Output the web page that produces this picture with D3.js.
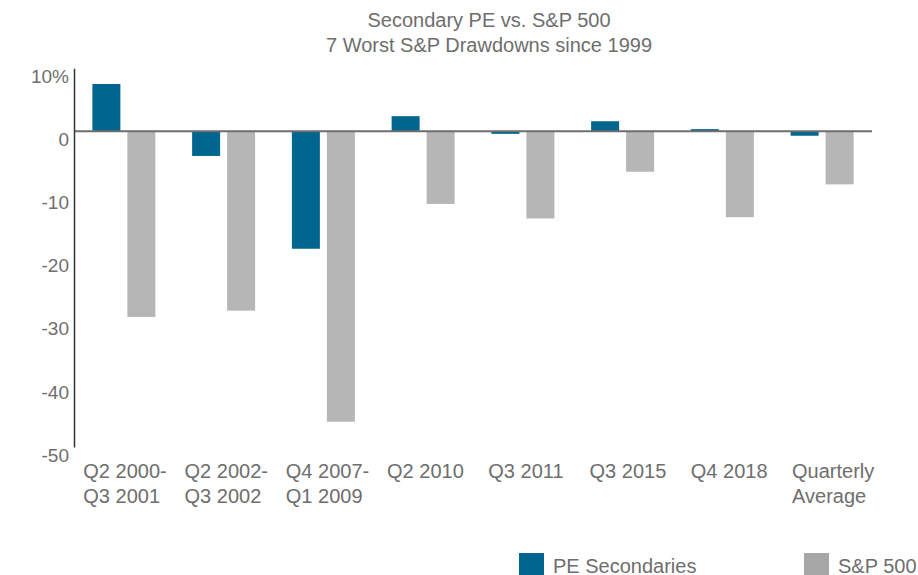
<!DOCTYPE html>
<html>
<head>
<meta charset="utf-8">
<script src="https://cdn.jsdelivr.net/npm/d3@7"></script>
<style>
  body { margin: 0; background: #fff; }
  svg { display: block; font-family: Arial, "Liberation Sans", sans-serif; }
</style>
</head>
<body>
<svg id="chart" width="918" height="575"></svg>
<script>
// categories + values
var categories = ["Q2 2000-|Q3 2001", "Q2 2002-|Q3 2002", "Q4 2007-|Q1 2009", "Q2 2010",
                  "Q3 2011", "Q3 2015", "Q4 2018", "Quarterly|Average"];
var seriesNames = ["PE Secondaries", "S&P 500"];
var peSecondaries = [7.5, -3.9, -18.6, 2.4, -0.4, 1.6, 0.35, -0.7];
var sp500 = [-29.4, -28.4, -46.0, -11.5, -13.8, -6.4, -13.6, -8.4];
var yTicks = [10, 0, -10, -20, -30, -40, -50];
var titleLines = ["Secondary PE vs. S&P 500", "7 Worst S&P Drawdowns since 1999"];

var barColors = ["#00668f", "#b7b6b7"];
var legendColors = ["#00668f", "#a6a6a6"];
var textColor = "#6e6e6e";

var svg = d3.select("#chart");

var x = d3.scaleBand().domain(d3.range(categories.length)).range([74, 872]).padding(0);
var xSub = d3.scaleBand().domain([0, 1]).range([0, x.bandwidth()])
    .paddingInner(0.2).paddingOuter(0.525);
// labels sit on a slightly wider step than the bars in the original
var xLabel = d3.scaleBand().domain(d3.range(categories.length)).range([74, 884]);
var y = d3.scaleLinear().domain([-50, 10]).range([447, 68.2]);

// title
svg.append("g").selectAll("text")
  .data(titleLines)
  .join("text")
    .attr("x", 489)
    .attr("y", function(d, i) { return 27 + i * 25; })
    .attr("text-anchor", "middle")
    .attr("font-size", 20)
    .attr("fill", textColor)
    .text(function(d) { return d; });

// bars
var rows = categories.map(function(c, i) {
  return [peSecondaries[i], sp500[i]];
});

var groups = svg.append("g").selectAll("g")
  .data(rows)
  .join("g")
    .attr("transform", function(d, i) { return "translate(" + x(i) + ",0)"; });

groups.selectAll("rect")
  .data(function(d) { return d; })
  .join("rect")
    .attr("x", function(d, j) { return xSub(j); })
    .attr("width", xSub.bandwidth())
    .attr("y", function(d) { return y(Math.max(0, d)); })
    .attr("height", function(d) { return Math.abs(y(d) - y(0)); })
    .attr("fill", function(d, j) { return barColors[j]; });

// zero line
svg.append("line")
  .attr("x1", 74).attr("x2", 872)
  .attr("y1", y(0)).attr("y2", y(0))
  .attr("stroke", "#6e6e6e")
  .attr("stroke-width", 2);

// y axis
var yAxis = d3.axisLeft(y)
  .tickValues(yTicks)
  .tickSize(0)
  .tickPadding(5)
  .tickFormat(function(d) { return d === 10 ? "10%" : d; });

var yg = svg.append("g")
  .attr("transform", "translate(74,0)")
  .call(yAxis);
yg.select(".domain").attr("stroke", "#333").attr("stroke-width", 1.5);
yg.selectAll("text")
  .attr("font-size", 19)
  .attr("font-family", "Arial, 'Liberation Sans', sans-serif")
  .attr("fill", textColor)
  .attr("dy", "0.72em")
  .attr("y", 0.5);

// x labels (left aligned, two lines)
var xl = svg.append("g").selectAll("text")
  .data(categories)
  .join("text")
    .attr("x", function(d, i) { return xLabel(i) + 9.3; })
    .attr("y", 478)
    .attr("font-size", 20)
    .attr("fill", textColor);

xl.selectAll("tspan")
  .data(function(d) { return d.split("|"); })
  .join("tspan")
    .attr("x", function() { return d3.select(this.parentNode).attr("x"); })
    .attr("dy", function(d, k) { return k === 0 ? 0 : 25; })
    .text(function(d) { return d; });

// legend
var legendX = [519, 804];
var lg = svg.append("g").selectAll("g")
  .data(seriesNames)
  .join("g")
    .attr("transform", function(d, i) { return "translate(" + legendX[i] + ",553)"; });

lg.append("rect")
  .attr("width", 25)
  .attr("height", 23)
  .attr("fill", function(d, i) { return legendColors[i]; });

lg.append("text")
  .attr("x", 34)
  .attr("y", 20)
  .attr("font-size", 20)
  .attr("fill", textColor)
  .text(function(d) { return d; });
</script>
</body>
</html>
